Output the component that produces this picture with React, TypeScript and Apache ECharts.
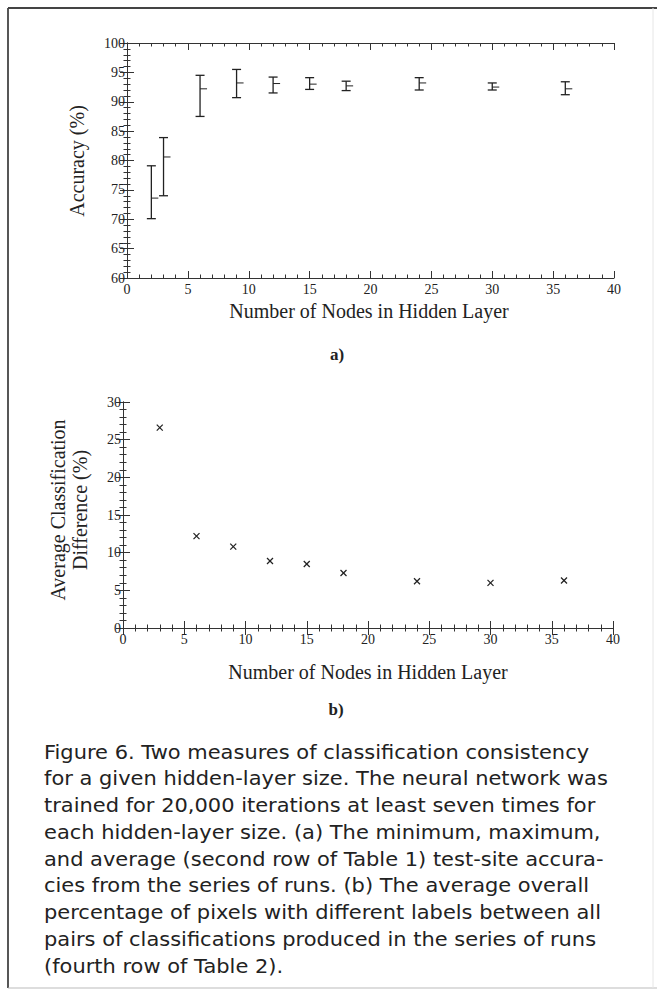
import React, { useEffect, useRef } from "react";
import * as echarts from "echarts";

// ---- data ----
const nodes = [2, 3, 6, 9, 12, 15, 18, 24, 30, 36];
const accMin = [70.1, 74.0, 87.5, 90.7, 91.5, 92.1, 91.9, 92.0, 92.0, 91.2];
const accMax = [79.1, 83.9, 94.5, 95.5, 94.2, 94.1, 93.5, 94.1, 93.2, 93.4];
const accAvg = [73.6, 80.6, 92.2, 93.2, 93.1, 93.0, 92.7, 93.2, 92.5, 92.2];

const diffNodes = [3, 6, 9, 12, 15, 18, 24, 30, 36];
const diffAvg = [26.6, 12.2, 10.8, 8.9, 8.5, 7.3, 6.2, 6.0, 6.3];

const xTitle = "Number of Nodes in Hidden Layer";
const yTitleA = "Accuracy (%)";
const yTitleB = "Average Classification\nDifference (%)";

const captionLines = [
  "Figure 6. Two measures of classification consistency",
  "for a given hidden-layer size. The neural network was",
  "trained for 20,000 iterations at least seven times for",
  "each hidden-layer size. (a) The minimum, maximum,",
  "and average (second row of Table 1) test-site accura-",
  "cies from the series of runs. (b) The average overall",
  "percentage of pixels with different labels between all",
  "pairs of classifications produced in the series of runs",
  "(fourth row of Table 2).",
];

const SERIF = "'Liberation Serif', 'Times New Roman', serif";
const SANS = "'DejaVu Sans', sans-serif";
const INK = "#222";

function axisPair(gridIndex: number, min: number, max: number, isX: boolean) {
  const common = {
    gridIndex,
    type: "value",
    min,
    max,
    interval: 5,
    axisLine: { show: true, lineStyle: { color: "#333", width: 1 } },
    axisTick: { show: true, inside: true, length: 7, lineStyle: { color: "#333", width: 1 } },
    minorTick: { show: true, splitNumber: 5, length: 3.5, lineStyle: { color: "#333", width: 1 } },
    splitLine: { show: false },
    minorSplitLine: { show: false },
  };
  const main = {
    ...common,
    position: isX ? "bottom" : "left",
    axisLabel: {
      show: true,
      fontFamily: SERIF,
      fontSize: 14,
      color: INK,
      margin: isX ? 4 : 2,
    },
  };
  const mirror = {
    ...common,
    position: isX ? "top" : "right",
    axisLabel: { show: false },
  };
  return [main, mirror];
}

export default function App() {
  const ref = useRef<HTMLDivElement>(null);

  useEffect(() => {
    if (!ref.current) return;
    const chart = echarts.init(ref.current, undefined, { renderer: "svg" });

    const errData = nodes.map((n, i) => [n, accMin[i], accMax[i], accAvg[i]]);
    const diffData = diffNodes.map((n, i) => [n, diffAvg[i]]);

    const lineStyle = { stroke: INK, lineWidth: 1.3 };

    const option: any = {
      animation: false,
      backgroundColor: "#ffffff",
      grid: [
        { left: 127, right: 43, top: 43, height: 235 },
        { left: 123, right: 44, top: 402, height: 226 },
      ],
      xAxis: [...axisPair(0, 0, 40, true), ...axisPair(1, 0, 40, true)],
      yAxis: [...axisPair(0, 60, 100, false), ...axisPair(1, 0, 30, false)],
      series: [
        {
          type: "custom",
          xAxisIndex: 0,
          yAxisIndex: 0,
          data: errData,
          encode: { x: 0, y: [1, 2, 3] },
          renderItem: (params: any, api: any) => {
            const x = api.value(0);
            const lo = api.coord([x, api.value(1)]);
            const hi = api.coord([x, api.value(2)]);
            const av = api.coord([x, api.value(3)]);
            const cap = 4.5;
            return {
              type: "group",
              children: [
                { type: "line", shape: { x1: lo[0], y1: lo[1], x2: hi[0], y2: hi[1] }, style: lineStyle },
                { type: "line", shape: { x1: lo[0] - cap, y1: lo[1], x2: lo[0] + cap, y2: lo[1] }, style: lineStyle },
                { type: "line", shape: { x1: hi[0] - cap, y1: hi[1], x2: hi[0] + cap, y2: hi[1] }, style: lineStyle },
                { type: "line", shape: { x1: av[0], y1: av[1], x2: av[0] + 7, y2: av[1] }, style: { stroke: INK, lineWidth: 1 } },
              ],
            };
          },
        },
        {
          type: "custom",
          xAxisIndex: 2,
          yAxisIndex: 2,
          data: diffData,
          encode: { x: 0, y: 1 },
          renderItem: (params: any, api: any) => {
            const p = api.coord([api.value(0), api.value(1)]);
            const s = 3;
            return {
              type: "group",
              children: [
                { type: "line", shape: { x1: p[0] - s, y1: p[1] - s, x2: p[0] + s, y2: p[1] + s }, style: { stroke: INK, lineWidth: 1.2 } },
                { type: "line", shape: { x1: p[0] - s, y1: p[1] + s, x2: p[0] + s, y2: p[1] - s }, style: { stroke: INK, lineWidth: 1.2 } },
              ],
            };
          },
        },
      ],
      graphic: [
        // frame
        { type: "line", shape: { x1: 8, y1: 8, x2: 657, y2: 8 }, style: { stroke: "#444", lineWidth: 2 } },
        { type: "line", shape: { x1: 8, y1: 8, x2: 8, y2: 988 }, style: { stroke: "#444", lineWidth: 1.8 } },
        { type: "line", shape: { x1: 8, y1: 988, x2: 657, y2: 988 }, style: { stroke: "#bbb", lineWidth: 1 } },
        { type: "line", shape: { x1: 653, y1: 8, x2: 653, y2: 988 }, style: { stroke: "#e6e6e6", lineWidth: 1 } },
        // axis titles (a)
        {
          type: "text", x: 77, y: 161, rotation: Math.PI / 2,
          style: { text: yTitleA, font: `20px ${SERIF}`, fill: INK, align: "center", verticalAlign: "middle" },
        },
        {
          type: "text", x: 369, y: 311,
          style: { text: xTitle, font: `20px ${SERIF}`, fill: INK, align: "center", verticalAlign: "middle" },
        },
        {
          type: "text", x: 337, y: 354,
          style: { text: "a)", font: `bold 17px ${SERIF}`, fill: INK, align: "center", verticalAlign: "middle" },
        },
        // axis titles (b)
        {
          type: "text", x: 69, y: 510, rotation: Math.PI / 2,
          style: { text: yTitleB, font: `20px ${SERIF}`, lineHeight: 22, fill: INK, align: "center", verticalAlign: "middle" },
        },
        {
          type: "text", x: 368, y: 672,
          style: { text: xTitle, font: `20px ${SERIF}`, fill: INK, align: "center", verticalAlign: "middle" },
        },
        {
          type: "text", x: 336, y: 709,
          style: { text: "b)", font: `bold 17px ${SERIF}`, fill: INK, align: "center", verticalAlign: "middle" },
        },
        // caption
        {
          type: "group",
          x: 44,
          y: 752,
          scaleX: 1.104,
          children: captionLines.map((t, i) => ({
            type: "text",
            x: 0,
            y: i * 26.75,
            style: { text: t, font: `19px ${SANS}`, fill: "#222", align: "left", verticalAlign: "middle" },
          })),
        },
      ],
    };

    chart.setOption(option);
    return () => chart.dispose();
  }, []);

  return (
    <div
      ref={ref}
      style={{ position: "absolute", left: 0, top: 0, width: 657, height: 992, background: "#fff" }}
    />
  );
}
